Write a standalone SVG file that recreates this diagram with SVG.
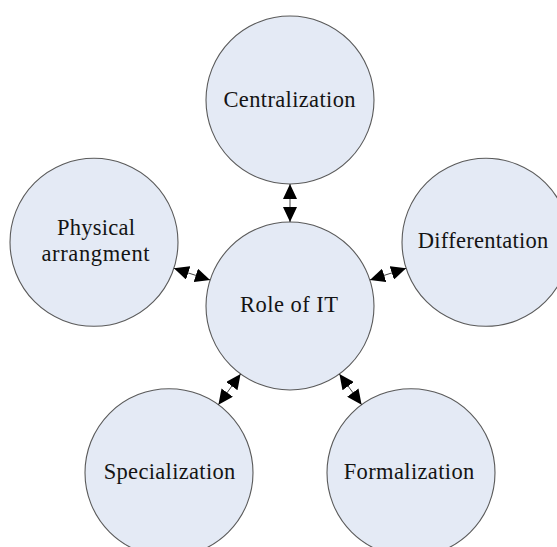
<svg xmlns="http://www.w3.org/2000/svg" width="557" height="547" viewBox="0 0 557 547">
  <style>
    .node circle { fill: #E4EAF5; stroke: #5a5a5a; stroke-width: 1.1; }
    .node text { font-family: "Liberation Serif", "DejaVu Serif", serif; font-size: 22.5px; fill: #141414; text-anchor: middle; }
    .link { stroke: #444; stroke-width: 1; fill: none; marker-start: url(#head); marker-end: url(#head); }
  </style>
  <defs>
    <marker id="head" markerUnits="userSpaceOnUse" viewBox="0 0 15 14" markerWidth="15" markerHeight="14" refX="15" refY="7" orient="auto-start-reverse">
      <path d="M0,0 L15,7 L0,14 Z" fill="#000"/>
    </marker>
  </defs>
  <rect width="557" height="547" fill="#fff"/>

  <g id="role-of-it" class="node">
    <circle cx="290" cy="306" r="84"/>
    <text x="289" y="312" textLength="98" lengthAdjust="spacing">Role of IT</text>
  </g>
  <g id="centralization" class="node">
    <circle cx="290" cy="100" r="84"/>
    <text x="289.5" y="106.5" textLength="132" lengthAdjust="spacing">Centralization</text>
  </g>
  <g id="physical-arrangment" class="node">
    <circle cx="94" cy="242.3" r="84"/>
    <text x="96" y="235" textLength="78" lengthAdjust="spacing">Physical</text>
    <text x="95.5" y="260.8" textLength="108" lengthAdjust="spacing">arrangment</text>
  </g>
  <g id="differentation" class="node">
    <circle cx="486" cy="242.3" r="84"/>
    <text x="483" y="248" textLength="130.5" lengthAdjust="spacing">Differentation</text>
  </g>
  <g id="specialization" class="node">
    <circle cx="169" cy="472.7" r="84"/>
    <text x="169.5" y="479" textLength="131.5" lengthAdjust="spacing">Specialization</text>
  </g>
  <g id="formalization" class="node">
    <circle cx="411" cy="472.7" r="84"/>
    <text x="409" y="479" textLength="130.5" lengthAdjust="spacing">Formalization</text>
  </g>

  <g id="connectors">
    <line class="link" x1="290" y1="184" x2="290" y2="222"/>
    <line class="link" x1="173.9" y1="268.3" x2="210.1" y2="280"/>
    <line class="link" x1="406.1" y1="268.3" x2="369.9" y2="280"/>
    <line class="link" x1="218.4" y1="404.7" x2="240.6" y2="374"/>
    <line class="link" x1="361.6" y1="404.7" x2="339.4" y2="374"/>
  </g>
</svg>
